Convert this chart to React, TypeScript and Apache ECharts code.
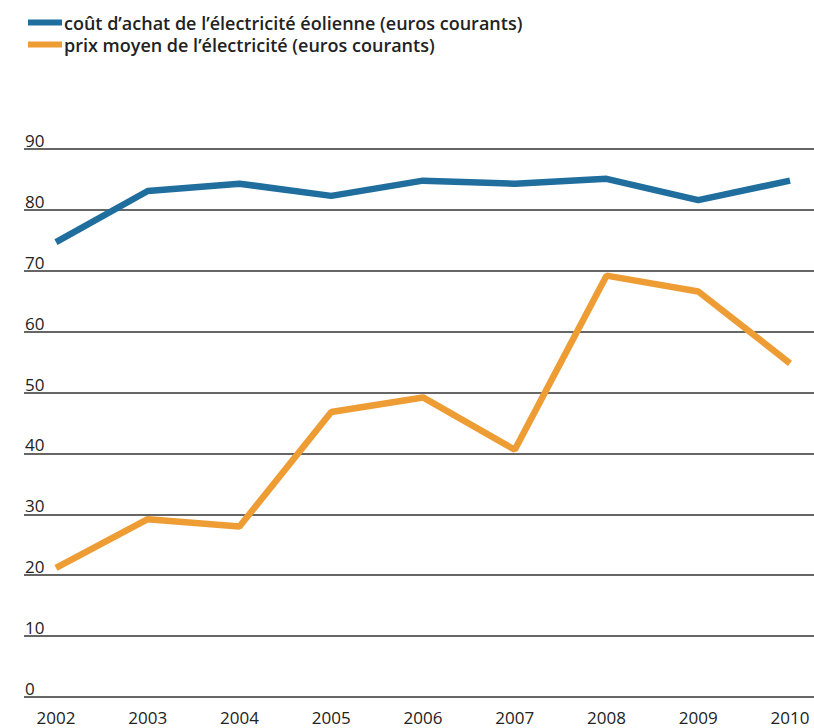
import React, { useEffect, useRef } from "react";
import * as echarts from "echarts";

const years = ["2002", "2003", "2004", "2005", "2006", "2007", "2008", "2009", "2010"];
const windCost = [74.7, 83.1, 84.3, 82.3, 84.8, 84.3, 85.1, 81.6, 84.8];
const avgPrice = [21.2, 29.2, 28.0, 46.8, 49.2, 40.6, 69.2, 66.6, 54.8];
const yTicks = [0, 10, 20, 30, 40, 50, 60, 70, 80, 90];

const seriesNames = [
  "coût d’achat de l’électricité éolienne (euros courants)",
  "prix moyen de l’électricité (euros courants)",
];

const BLUE = "#1f6e9e";
const ORANGE = "#ee9c34";
const FONT = "'Open Sans', 'Noto Sans', sans-serif";

export default function App() {
  const ref = useRef<HTMLDivElement>(null);
  useEffect(() => {
    if (!ref.current) return;
    const chart = echarts.init(ref.current, null, { renderer: "svg" });
    const yMin = yTicks[0];
    const yMax = yTicks[yTicks.length - 1];
    const step = yTicks[1] - yTicks[0];
    chart.setOption({
      animation: false,
      backgroundColor: "#ffffff",
      textStyle: { fontFamily: FONT },
      legend: {
        orient: "vertical",
        left: 23,
        top: 8,
        itemWidth: 34,
        itemHeight: 6,
        itemGap: 3,
        icon: "rect",
        data: seriesNames,
        textStyle: {
          fontFamily: FONT,
          fontSize: 18,
          lineHeight: 19,
          color: "#222",
          fontWeight: 600,
          padding: [0, 0, 0, -3],
        },
      },
      grid: [
        { left: 24, right: 0, top: 149, bottom: 31 },
        { left: 56, right: 24, top: 149, bottom: 31 },
      ],
      xAxis: [
        { gridIndex: 0, type: "value", min: 0, max: 1, show: false },
        {
          gridIndex: 1,
          type: "category",
          data: years,
          boundaryGap: false,
          axisLine: { show: false },
          axisTick: { show: false },
          axisLabel: { color: "#222", fontSize: 17, lineHeight: 16, margin: 12, fontFamily: FONT },
        },
      ],
      yAxis: [
        {
          gridIndex: 0,
          type: "value",
          min: yMin,
          max: yMax,
          interval: step,
          axisLine: { show: false },
          axisTick: { show: false },
          axisLabel: {
            inside: true,
            verticalAlign: "bottom",
            margin: 1,
            color: "#222",
            fontSize: 17,
            fontFamily: FONT,
          },
          splitLine: { show: true, lineStyle: { color: "#333", width: 1.5 } },
        },
        {
          gridIndex: 1,
          type: "value",
          min: yMin,
          max: yMax,
          interval: step,
          show: false,
          splitLine: { show: false },
        },
      ],
      series: [
        {
          name: seriesNames[0],
          type: "line",
          xAxisIndex: 1,
          yAxisIndex: 1,
          data: windCost,
          symbol: "none",
          color: BLUE,
          lineStyle: { width: 6.5, color: BLUE },
        },
        {
          name: seriesNames[1],
          type: "line",
          xAxisIndex: 1,
          yAxisIndex: 1,
          data: avgPrice,
          symbol: "none",
          color: ORANGE,
          lineStyle: { width: 6.5, color: ORANGE },
        },
      ],
    });
    return () => chart.dispose();
  }, []);
  return <div ref={ref} style={{ width: 814, height: 728, position: "absolute", left: 0, top: 0 }} />;
}
